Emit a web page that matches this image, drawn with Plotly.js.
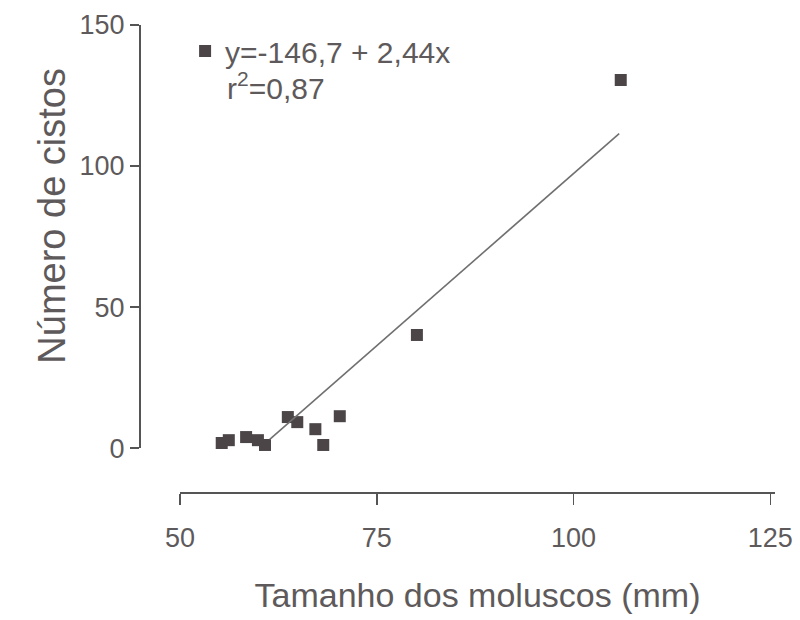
<!DOCTYPE html>
<html>
<head>
<meta charset="utf-8">
<script src="https://cdn.plot.ly/plotly-3.0.1.min.js"></script>
<style>html,body{margin:0;padding:0;background:#fff;}#chart{width:800px;height:620px;}</style>
</head>
<body>
<div id="chart"></div>
<script>
// Data
const sizeMm = [55.3, 56.2, 58.4, 59.9, 60.8, 63.7, 64.9, 67.2, 68.2, 70.3, 80.1, 106.0];
const cysts  = [1.8, 2.8, 3.9, 2.8, 1.1, 11.0, 9.2, 6.7, 1.1, 11.3, 40.1, 130.5];
const fitIntercept = -146.7;
const fitSlope = 2.44;
const fitX = [61.4, 105.8];
const fitY = fitX.map(v => fitIntercept + fitSlope * v);
const xTicks = [50, 75, 100, 125];
const yTicks = [0, 50, 100, 150];
const legendLabel = 'y=-146,7 + 2,44x';
const r2Label = 'r<sup>2</sup>=0,87';
const xTitle = 'Tamanho dos moluscos (mm)';
const yTitle = 'Número de cistos';

const FONT = 'Liberation Sans, Arial, sans-serif';
const TXT = '#5e5a5b';

const traces = [
  {
    x: sizeMm, y: cysts, type: 'scatter', mode: 'markers', name: legendLabel,
    marker: {symbol: 'square', size: 12, color: '#4b4547'},
    cliponaxis: false
  },
  {
    x: fitX, y: fitY, type: 'scatter', mode: 'lines', showlegend: false,
    line: {color: '#707070', width: 1.6}
  }
];

const layout = {
  width: 800, height: 620,
  paper_bgcolor: '#ffffff', plot_bgcolor: 'rgba(0,0,0,0)',
  margin: {l: 140, r: 25, t: 25, b: 127},
  font: {family: FONT, color: TXT},
  showlegend: true,
  legend: {
    x: 0.071, y: 1.0, xanchor: 'left', yanchor: 'top',
    bgcolor: 'rgba(0,0,0,0)', valign: 'middle',
    font: {family: FONT, size: 30, color: TXT},
    itemwidth: 30
  },
  annotations: [
    {
      text: r2Label, xref: 'paper', yref: 'paper', x: 0.134, y: 0.87,
      xanchor: 'left', yanchor: 'middle', showarrow: false,
      font: {family: FONT, size: 30, color: TXT}
    },
    {
      text: yTitle, xref: 'paper', yref: 'paper', x: -0.139, y: 0.592,
      xanchor: 'center', yanchor: 'middle', textangle: -90, showarrow: false,
      font: {family: FONT, size: 38, color: TXT}
    }
  ],
  xaxis: {
    domain: [0.063, 1], range: [50, 125.6], anchor: 'free', position: 0,
    tickmode: 'array', tickvals: xTicks, ticktext: xTicks.map(String),
    ticks: 'outside', ticklen: 11, tickwidth: 1.5, tickcolor: '#555',
    ticklabelstandoff: 10,
    showline: true, linecolor: '#555', linewidth: 2,
    showgrid: false, zeroline: false,
    tickfont: {family: FONT, size: 27, color: TXT},
    title: {text: xTitle, font: {family: FONT, size: 34, color: TXT}, standoff: 30}
  },
  yaxis: {
    domain: [0.096, 1], range: [0, 150], anchor: 'free', position: 0,
    tickmode: 'array', tickvals: yTicks, ticktext: yTicks.map(v => String(v)),
    ticks: 'outside', ticklen: 9, tickwidth: 1.5, tickcolor: '#555',
    showline: true, linecolor: '#555', linewidth: 2,
    showgrid: false, zeroline: false,
    tickfont: {family: FONT, size: 27, color: TXT}
  }
};

Plotly.newPlot('chart', traces, layout, {displayModeBar: false, staticPlot: true});
</script>
</body>
</html>
